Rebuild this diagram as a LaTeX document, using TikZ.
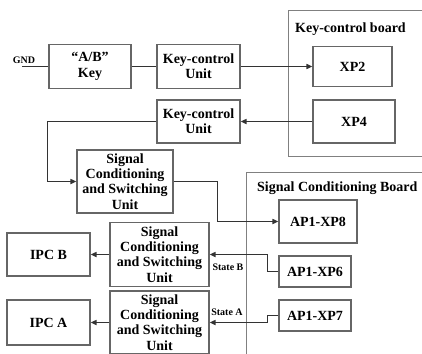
\documentclass[tikz,border=0pt]{standalone}
\usepackage{fontspec}
\setmainfont{Liberation Serif}
\usetikzlibrary{arrows.meta}

\begin{document}
\begin{tikzpicture}[
    x=1pt, y=-1pt,
    font=\fontsize{14}{15.3}\selectfont\bfseries,
    unit/.style={draw=black!60, line width=1.1pt, align=center, inner sep=1pt},
    board/.style={draw=black!50, line width=0.9pt},
    link/.style={line width=1.6pt, draw=black!80},
    flow/.style={link, -{Triangle[length=6pt, width=5pt]}},
    tag/.style={font=\fontsize{10}{12}\selectfont\bfseries, inner sep=0pt}
]
\useasboundingbox (0,0) rectangle (422,353);
% boards
\draw[board] (424,10) -| (288,156) -- (424,156);
\draw[board] (424,172) -| (246,355);
\node[anchor=west, inner sep=0pt] (kboard) at (295,29) {Key-control board};
\node[anchor=west, inner sep=0pt] (sboard) at (257,188) {Signal Conditioning Board};
% units
\node[unit, minimum width=82pt, minimum height=44pt] (key) at (90,66.5) {“A/B”\\Key};
\node[unit, minimum width=83pt, minimum height=44pt] (kcu1) at (198.5,66.5) {Key-control\\Unit};
\node[unit, minimum width=79pt, minimum height=40pt] (xp2) at (352.5,66.5) {XP2};
\node[unit, minimum width=83pt, minimum height=43pt] (kcu2) at (198.5,121.5) {Key-control\\Unit};
\node[unit, minimum width=82pt, minimum height=43pt] (xp4) at (354,121.5) {XP4};
\node[unit, minimum width=96pt, minimum height=63pt] (scsu1) at (125,181.5)
    {Signal\\Conditioning\\and Switching\\Unit};
\node[unit, minimum width=78pt, minimum height=43pt] (xp8) at (318,221.5) {AP1-XP8};
\node[unit, minimum width=99pt, minimum height=64pt] (scsu2) at (159.5,254.5)
    {Signal\\Conditioning\\and Switching\\Unit};
\node[unit, minimum width=72pt, minimum height=31pt] (xp6) at (315,271.5) {AP1-XP6};
\node[unit, minimum width=83pt, minimum height=43pt] (ipcb) at (48.5,254.5) {IPC B};
\node[unit, minimum width=99pt, minimum height=63pt] (scsu3) at (159.5,322.5)
    {Signal\\Conditioning\\and Switching\\Unit};
\node[unit, minimum width=72pt, minimum height=31pt] (xp7) at (315,315.5) {AP1-XP7};
\node[unit, minimum width=83pt, minimum height=45pt] (ipca) at (48.5,322.5) {IPC A};
% labels
\node[tag] (gndlabel) at (24,60) {GND};
\coordinate (gnd) at (22,66.5);
\node[tag] (stateb) at (228,267) {State B};
\node[tag] (statea) at (227,312) {State A};
% connectors
\draw[link] (gnd) -- (key.west);
\draw[link] (key) -- (kcu1);
\draw[flow] (kcu1) -- (xp2);
\draw[flow] (xp4) -- (kcu2);
\draw[flow] (kcu2.west) -- ++(-109,0) |- (scsu1.west);
\draw[flow] (scsu1.east) -- ++(44,0) |- (xp8.west);
\draw[flow] (xp6.west) -- ++(-11,0) |- (scsu2.east);
\draw[flow] (xp7.west) -- ++(-11,0) |- (scsu3.east);
\draw[flow] (scsu2) -- (ipcb);
\draw[flow] (scsu3) -- (ipca);
\end{tikzpicture}
\end{document}
